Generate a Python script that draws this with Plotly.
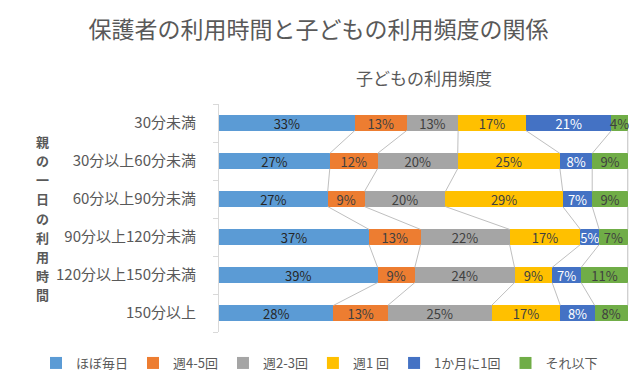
import numpy as np
import plotly.graph_objects as go

categories = ["30分未満", "30分以上60分未満", "60分以上90分未満",
              "90分以上120分未満", "120分以上150分未満", "150分以上"]
series_names = ["ほぼ毎日", "週4-5回", "週2-3回", "週1 回", "1か月に1回", "それ以下"]
# percentages per series (one value per category)
almost_daily = [33.2, 27.1, 26.6, 36.7, 38.8, 28.0]
w45 = [12.7, 11.7, 9.0, 12.6, 9.1, 13.3]
w23 = [12.6, 19.6, 19.8, 21.8, 24.4, 25.4]
w1 = [16.6, 25.0, 28.7, 17.3, 9.2, 16.8]
m1 = [20.9, 7.9, 7.2, 4.6, 7.1, 8.4]
less = [4.0, 8.7, 8.7, 7.0, 11.4, 8.1]

title_text = "保護者の利用時間と子どもの利用頻度の関係"
x_title = "子どもの利用頻度"
y_title = "親の一日の利用時間"

series_values = [almost_daily, w45, w23, w1, m1, less]
colors = ["#5B9BD5", "#ED7D31", "#A5A5A5", "#FFC000", "#4472C4", "#70AD47"]
label_colors = ["#262626", "#404040", "#404040", "#404040", "#FFFFFF", "#404040"]

font_jp = "Noto Sans CJK JP"
ypos = np.arange(len(categories))
bar_w = 0.4

fig = go.Figure()

# series lines (connect cumulative boundaries between consecutive bars)
vals = np.array(series_values)
cum = np.cumsum(vals, axis=0)
lx, ly = [], []
for k in range(cum.shape[0]):
    for i in range(len(categories) - 1):
        lx += [cum[k, i], cum[k, i + 1], None]
        ly += [ypos[i] + bar_w / 2, ypos[i + 1] - bar_w / 2, None]
fig.add_trace(go.Scatter(x=lx, y=ly, mode="lines",
                         line=dict(color="#BFBFBF", width=1),
                         showlegend=False, hoverinfo="skip"))

for name, v, c, lc in zip(series_names, series_values, colors, label_colors):
    fig.add_trace(go.Bar(
        y=ypos, x=v, name=name, orientation="h", width=bar_w,
        marker=dict(color=c, line=dict(width=0)),
        text=[f"{round(x)}%" for x in v], textposition="inside",
        insidetextanchor="middle", textangle=0,
        textfont=dict(color=lc, size=13, family=font_jp),
    ))

annots = [
    dict(text=x_title, xref="paper", yref="paper",
         x=0.5, y=(324 - 69) / 228, xanchor="center", yanchor="middle",
         showarrow=False, font=dict(size=17, color="#595959", family=font_jp)),
]
# upright vertical axis title: one character per line
n = len(y_title)
step = 19.2
center = 210
for j, ch in enumerate(y_title):
    ypix = center + (j - (n - 1) / 2) * step
    annots.append(dict(
        text=f"<b>{ch}</b>", xref="paper", yref="paper",
        x=(34 - 211) / 410, y=(324 - ypix) / 228,
        xanchor="center", yanchor="middle", showarrow=False,
        font=dict(size=13, color="#595959", family=font_jp)))

fig.update_layout(
    barmode="stack",
    width=640, height=384,
    margin=dict(l=211, r=19, t=96, b=60, autoexpand=False),
    plot_bgcolor="white", paper_bgcolor="white",
    font=dict(family=font_jp, color="#595959"),
    uniformtext=dict(minsize=13, mode="show"),
    title=dict(text=title_text,
               x=0.485, xanchor="center", y=1 - 22 / 384, yanchor="middle",
               font=dict(size=23, color="#595959", family=font_jp)),
    xaxis=dict(range=[0, 100.3], showgrid=False, zeroline=False,
               showticklabels=False, ticks=""),
    yaxis=dict(range=[5.5, -0.5], tickvals=ypos, ticktext=categories,
               showgrid=False, zeroline=False,
               showline=True, linecolor="#D9D9D9", linewidth=1,
               ticks="outside", ticklen=19, tickcolor="rgba(0,0,0,0)",
               tickfont=dict(size=15, color="#595959", family=font_jp),
               minor=dict(tick0=0.5, dtick=1, ticks="outside", ticklen=5,
                          tickcolor="#D9D9D9", showgrid=False)),
    legend=dict(orientation="h", xref="paper", yref="paper",
                x=(28 - 211) / 410, xanchor="left",
                y=(324 - 355) / 228, yanchor="middle",
                font=dict(size=13, color="#595959", family=font_jp),
                traceorder="normal", itemwidth=30),
    annotations=annots,
)

fig.write_html("out.html")
